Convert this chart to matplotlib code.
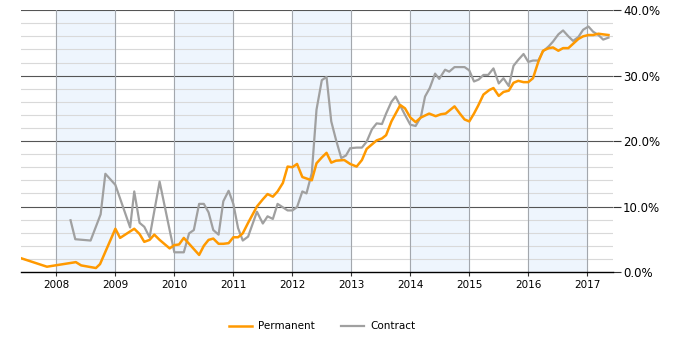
import matplotlib
matplotlib.use("Agg")
import matplotlib.pyplot as plt
from matplotlib.ticker import MultipleLocator, FuncFormatter

# decimal year, percent
perm_x = [2007.40, 2007.84, 2008.33, 2008.42, 2008.67, 2008.74, 2009.00, 2009.08,
          2009.32, 2009.41, 2009.49, 2009.58, 2009.66, 2009.75, 2009.92, 2010.00,
          2010.08, 2010.16, 2010.42, 2010.50, 2010.58, 2010.66, 2010.75, 2010.83,
          2010.92, 2011.00, 2011.08, 2011.16, 2011.25, 2011.40, 2011.50, 2011.58,
          2011.67, 2011.75, 2011.84, 2011.92, 2012.00, 2012.08, 2012.17, 2012.33,
          2012.41, 2012.50, 2012.58, 2012.66, 2012.74, 2012.88, 2012.98, 2013.09,
          2013.18, 2013.26, 2013.43, 2013.52, 2013.59, 2013.68, 2013.83, 2013.91,
          2014.00, 2014.09, 2014.18, 2014.32, 2014.43, 2014.52, 2014.60, 2014.75,
          2014.84, 2014.92, 2015.00, 2015.08, 2015.15, 2015.24, 2015.34, 2015.41,
          2015.50, 2015.58, 2015.67, 2015.75, 2015.83, 2015.92, 2016.00, 2016.08,
          2016.17, 2016.25, 2016.35, 2016.42, 2016.51, 2016.59, 2016.68, 2016.85,
          2016.93, 2017.02, 2017.10, 2017.19, 2017.27, 2017.36]
perm_y = [2.1, 0.8, 1.5, 1.0, 0.6, 1.2, 6.6, 5.2,
          6.6, 5.8, 4.6, 4.9, 5.7, 4.9, 3.6, 4.1,
          4.2, 5.2, 2.6, 4.0, 4.9, 5.1, 4.3, 4.3,
          4.4, 5.3, 5.3, 5.9, 7.5, 10.0, 11.1, 11.9,
          11.5, 12.3, 13.6, 16.1, 16.0, 16.5, 14.5, 14.0,
          16.6, 17.5, 18.2, 16.7, 17.0, 17.1, 16.5, 16.1,
          17.1, 18.8, 20.1, 20.4, 20.9, 23.0, 25.5, 25.0,
          23.6, 22.9, 23.6, 24.2, 23.8, 24.1, 24.2, 25.3,
          24.2, 23.3, 23.0, 24.2, 25.4, 27.1, 27.8, 28.1,
          26.9, 27.5, 27.7, 28.9, 29.2, 29.0, 29.0, 29.6,
          32.1, 33.8, 34.2, 34.3, 33.8, 34.2, 34.2, 35.6,
          36.0, 36.2, 36.2, 36.4, 36.3, 36.2]

contract_x = [2008.24, 2008.32, 2008.58, 2008.75, 2008.83, 2009.00, 2009.25, 2009.32,
              2009.41, 2009.49, 2009.58, 2009.75, 2009.92, 2010.00, 2010.16, 2010.25,
              2010.33, 2010.42, 2010.50, 2010.58, 2010.66, 2010.75, 2010.83, 2010.92,
              2011.00, 2011.08, 2011.16, 2011.25, 2011.40, 2011.50, 2011.58, 2011.67,
              2011.75, 2011.92, 2012.00, 2012.08, 2012.17, 2012.24, 2012.33, 2012.41,
              2012.50, 2012.58, 2012.66, 2012.74, 2012.83, 2012.91, 2012.98, 2013.09,
              2013.18, 2013.26, 2013.35, 2013.43, 2013.52, 2013.59, 2013.68, 2013.75,
              2013.83, 2013.91, 2014.00, 2014.09, 2014.18, 2014.25, 2014.33, 2014.42,
              2014.49, 2014.59, 2014.66, 2014.75, 2014.92, 2015.00, 2015.08, 2015.16,
              2015.24, 2015.32, 2015.41, 2015.50, 2015.58, 2015.67, 2015.75, 2015.83,
              2015.92, 2016.00, 2016.08, 2016.17, 2016.25, 2016.35, 2016.42, 2016.51,
              2016.59, 2016.68, 2016.76, 2016.85, 2016.93, 2017.02, 2017.10, 2017.19,
              2017.27, 2017.36]
contract_y = [7.9, 5.0, 4.8, 8.8, 15.0, 13.3, 6.8, 12.3,
              7.5, 6.9, 5.3, 13.8, 6.4, 3.0, 3.0, 5.9,
              6.4, 10.4, 10.4, 9.1, 6.4, 5.7, 10.8, 12.4,
              10.4, 6.7, 4.8, 5.4, 9.2, 7.4, 8.5, 8.1,
              10.4, 9.4, 9.4, 9.9, 12.3, 12.0, 15.1, 24.8,
              29.3, 29.8, 23.0, 20.2, 17.4, 17.8, 18.9, 19.0,
              19.0, 19.9, 21.8, 22.7, 22.6, 24.2, 26.0, 26.8,
              25.4, 24.0, 22.5, 22.3, 23.7, 26.8, 28.1, 30.3,
              29.5, 30.9, 30.6, 31.3, 31.3, 30.8, 29.1, 29.4,
              30.1, 30.1, 31.1, 28.8, 29.6, 28.4, 31.5, 32.4,
              33.3, 32.1, 32.3, 32.3, 33.7, 34.5, 35.2, 36.3,
              36.9, 36.0, 35.3, 35.9, 37.0, 37.5, 36.7, 36.2,
              35.5, 35.8]

years = [2008, 2009, 2010, 2011, 2012, 2013, 2014, 2015, 2016, 2017]
band_starts = [2008, 2010, 2012, 2014, 2016]

fig = plt.figure(figsize=(7, 3.5), dpi=100)
ax = fig.add_axes([0.03, 0.223, 0.846, 0.748])

for b in band_starts:
    ax.axvspan(b, b + 1, color="#eef5fd", zorder=0)

# grid
for v in range(2, 40, 2):
    if v % 10:
        ax.axhline(v, color="#d9d9d9", lw=0.8, zorder=1)
for v in [10, 20, 30, 40]:
    ax.axhline(v, color="#555555", lw=0.8, zorder=1)
for yr in years:
    ax.axvline(yr, color="#a3a7ad", lw=0.8, zorder=1)

ax.plot(contract_x, contract_y, color="#a0a0a0", lw=1.6, label="Contract", zorder=3)
ax.plot(perm_x, perm_y, color="#ff9900", lw=1.8, label="Permanent", zorder=4)

ax.set_xlim(2007.40, 2017.44)
ax.set_ylim(0, 40)

ax.yaxis.tick_right()
ax.yaxis.set_major_locator(MultipleLocator(10))
ax.yaxis.set_major_formatter(FuncFormatter(lambda v, p: "%.1f%%" % v))
ax.tick_params(axis="y", length=6, width=0.8, color="#333333", labelsize=8.5, pad=1)
ax.set_xticks(years)
ax.set_xticklabels([str(y) for y in years])
ax.tick_params(axis="x", length=3, width=0.8, color="#333333", labelsize=7.5, pad=3)

for s in ["left", "right", "top"]:
    ax.spines[s].set_visible(False)
ax.spines["bottom"].set_color("#000000")
ax.spines["bottom"].set_linewidth(1.0)

h, l = ax.get_legend_handles_labels()
fig.legend([h[1], h[0]], [l[1], l[0]], loc="center", bbox_to_anchor=(0.46, 0.068),
           ncol=2, frameon=False, fontsize=7.5, handlelength=2.2, columnspacing=2.5,
           handletextpad=0.6)

fig.savefig("out.png", dpi=100)
